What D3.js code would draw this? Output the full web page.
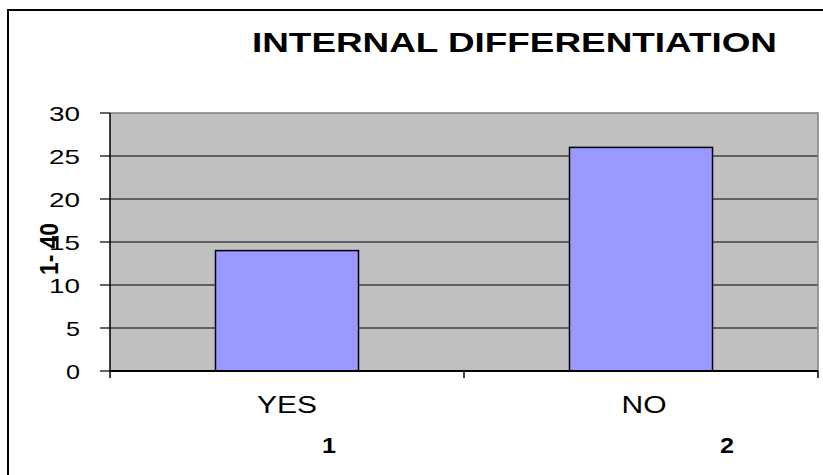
<!DOCTYPE html>
<html>
<head>
<meta charset="utf-8">
<script src="https://cdn.jsdelivr.net/npm/d3@7"></script>
<style>
  html, body { margin: 0; padding: 0; background: #ffffff; }
  svg { display: block; }
  text { font-family: "Liberation Sans", Arial, sans-serif; fill: #000; }
</style>
</head>
<body>
<svg id="chart" width="823" height="475"></svg>
<script>
// ---- data ----
const categories = ["YES", "NO"];
const values = [14, 26];
const categoryNumbers = ["1", "2"];
const yTicks = [0, 5, 10, 15, 20, 25, 30];
const titleText = "INTERNAL DIFFERENTIATION";
const yAxisTitle = "1- 40";

// ---- layout ----
const W = 823, H = 475;
const plot = { left: 110, right: 818, top: 113, bottom: 371 };

const svg = d3.select("#chart");
svg.append("rect").attr("x", 0).attr("y", 0).attr("width", W).attr("height", H).attr("fill", "#fff");

// outer chart border (extends past right/bottom edges)
svg.append("rect")
  .attr("x", 8).attr("y", 10).attr("width", 840).attr("height", 490)
  .attr("fill", "none").attr("stroke", "#000").attr("stroke-width", 2);

const y = d3.scaleLinear().domain([0, 30]).range([plot.bottom, plot.top]);
const x = d3.scaleBand().domain(categories).range([plot.left, plot.right])
  .paddingInner(0.596).paddingOuter(0.298);
const xCat = d3.scaleBand().domain(categories).range([plot.left, plot.right]).padding(0);

// plot background
svg.append("rect")
  .attr("x", plot.left).attr("y", plot.top)
  .attr("width", plot.right - plot.left).attr("height", plot.bottom - plot.top)
  .attr("fill", "#C0C0C0");

// gridlines
svg.append("g").selectAll("line")
  .data(yTicks.filter(t => t > 0 && t < 30))
  .join("line")
  .attr("x1", plot.left).attr("x2", plot.right)
  .attr("y1", d => y(d)).attr("y2", d => y(d))
  .attr("stroke", "#000").attr("stroke-width", 1.2);

// top & right plot border (gray)
svg.append("path")
  .attr("d", `M${plot.left},${y(30)}H${plot.right}V${plot.bottom}`)
  .attr("fill", "none").attr("stroke", "#808080").attr("stroke-width", 1.5);

// bars
svg.append("g").selectAll("rect")
  .data(categories.map((c, i) => ({ c, v: values[i] })))
  .join("rect")
  .attr("x", d => x(d.c))
  .attr("y", d => y(d.v))
  .attr("width", x.bandwidth())
  .attr("height", d => y(0) - y(d.v))
  .attr("fill", "#9999FF")
  .attr("stroke", "#000").attr("stroke-width", 1.5);

// left axis
svg.append("line")
  .attr("x1", plot.left).attr("x2", plot.left)
  .attr("y1", y(30)).attr("y2", y(0))
  .attr("stroke", "#000").attr("stroke-width", 1.5);
svg.append("g").selectAll("line")
  .data(yTicks).join("line")
  .attr("x1", plot.left - 10).attr("x2", plot.left)
  .attr("y1", d => y(d)).attr("y2", d => y(d))
  .attr("stroke", "#000").attr("stroke-width", 1.2);
svg.append("g").selectAll("text")
  .data(yTicks).join("text")
  .attr("x", 80).attr("y", d => y(d) + 7.5)
  .attr("text-anchor", "end")
  .attr("font-size", 21)
  .attr("textLength", d => String(d).length > 1 ? 31 : 14)
  .attr("lengthAdjust", "spacingAndGlyphs")
  .text(d => d);

// bottom axis
svg.append("line")
  .attr("x1", plot.left).attr("x2", plot.right)
  .attr("y1", y(0)).attr("y2", y(0))
  .attr("stroke", "#000").attr("stroke-width", 2.2);
const xTickPos = [plot.left].concat(categories.map(c => xCat(c) + xCat.bandwidth()));
svg.append("g").selectAll("line")
  .data(xTickPos).join("line")
  .attr("x1", d => d).attr("x2", d => d)
  .attr("y1", y(0)).attr("y2", y(0) + 7)
  .attr("stroke", "#000").attr("stroke-width", 1.5);

// category labels
svg.append("g").selectAll("text")
  .data(categories).join("text")
  .attr("x", (d, i) => xCat(d) + xCat.bandwidth() / 2 + (i === 0 ? 0 : 3))
  .attr("y", 413)
  .attr("text-anchor", "middle")
  .attr("font-size", 24)
  .attr("textLength", d => d.length === 3 ? 60 : 45)
  .attr("lengthAdjust", "spacingAndGlyphs")
  .text(d => d);

// category numbers (bold)
const numOffset = [42, 86];
svg.append("g").selectAll("text")
  .data(categoryNumbers).join("text")
  .attr("x", (d, i) => xCat(categories[i]) + xCat.bandwidth() / 2 + numOffset[i])
  .attr("y", 453)
  .attr("text-anchor", "middle")
  .attr("font-size", 22)
  .attr("font-weight", "bold")
  .attr("textLength", 14)
  .attr("lengthAdjust", "spacingAndGlyphs")
  .text(d => d);

// title
svg.append("text")
  .attr("x", 252).attr("y", 52)
  .attr("font-size", 28)
  .attr("font-weight", "bold")
  .attr("textLength", 525)
  .attr("lengthAdjust", "spacingAndGlyphs")
  .text(titleText);

// y axis title
svg.append("text")
  .attr("transform", "translate(58,249) rotate(-90)")
  .attr("text-anchor", "middle")
  .attr("font-size", 25)
  .attr("font-weight", "bold")
  .attr("textLength", 52)
  .attr("lengthAdjust", "spacingAndGlyphs")
  .text(yAxisTitle);
</script>
</body>
</html>
